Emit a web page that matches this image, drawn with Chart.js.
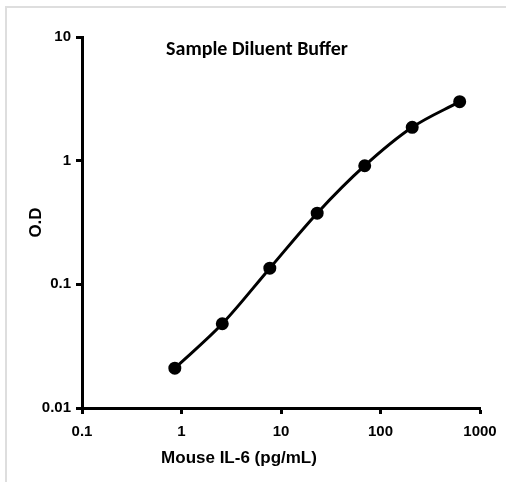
<!DOCTYPE html>
<html>
<head>
<meta charset="utf-8">
<script src="https://cdn.jsdelivr.net/npm/chart.js@4.4.1/dist/chart.umd.min.js"></script>
<style>
    body { margin: 0; background: #fff; }
    #wrap { position: relative; width: 506px; height: 482px; }
    #frame { position: absolute; left: 5px; top: 6px; right: 0; bottom: 0; border-left: 2px solid #dedede; border-top: 2px solid #dedede; }
    #grafik { position: absolute; left: 0; top: 0; }
</style>
</head>
<body>
<div id="wrap">
    <div id="frame"></div>
    <canvas id="grafik" width="506" height="482"></canvas>
</div>
<script>
const judul = "Sample Diluent Buffer";
const labelX = "Mouse IL-6 (pg/mL)";
const labelY = "O.D";

// konsentrasi (pengenceran 3x) dan nilai OD
const konsentrasi = [0.857, 2.57, 7.72, 23.1, 69.4, 208.3, 625];
const nilaiOD = [0.021, 0.048, 0.135, 0.376, 0.91, 1.86, 3.0];

const tickX = [0.1, 1, 10, 100, 1000];
const tickY = [0.01, 0.1, 1, 10];

const fontAngka = { family: "'Liberation Sans', Arial, sans-serif", size: 15, weight: 'bold' };

// teks judul dan label x digambar manual supaya posisinya pas
const teksTambahan = {
    id: 'teksTambahan',
    afterDraw(chart) {
        const ctx = chart.ctx;
        ctx.save();
        ctx.fillStyle = '#000';
        ctx.textAlign = 'center';
        ctx.textBaseline = 'middle';
        ctx.font = "bold 20px Carlito, 'Open Sans', sans-serif";
        ctx.fillText(judul, 257, 50);
        ctx.font = "bold 17px 'Liberation Sans', Arial, sans-serif";
        ctx.fillText(labelX, 239, 458);
        ctx.restore();
    }
};

const data = konsentrasi.map((x, i) => ({ x: x, y: nilaiOD[i] }));

new Chart(document.getElementById('grafik'), {
    type: 'line',
    data: {
        datasets: [{
            data: data,
            borderColor: '#000',
            backgroundColor: '#000',
            borderWidth: 3,
            pointRadius: 5,
            pointHoverRadius: 5,
            cubicInterpolationMode: 'monotone'
        }]
    },
    options: {
        responsive: false,
        animation: false,
        layout: { padding: { left: 0, right: 26, top: 37, bottom: 0 } },
        plugins: { legend: { display: false }, tooltip: { enabled: false } },
        scales: {
            x: {
                type: 'logarithmic',
                min: 0.1, max: 1000,
                afterBuildTicks: (s) => { s.ticks = tickX.map(v => ({ value: v })); },
                afterFit: (s) => { s.height = 74; },
                border: { color: '#000', width: 3 },
                grid: { drawOnChartArea: false, drawTicks: true, tickLength: 6, tickColor: '#000', tickWidth: 3 },
                ticks: { color: '#000', font: fontAngka, padding: 9, maxRotation: 0, autoSkip: false, callback: (v) => String(v) },
                title: { display: false }
            },
            y: {
                type: 'logarithmic',
                min: 0.01, max: 10,
                afterBuildTicks: (s) => { s.ticks = tickY.map(v => ({ value: v })); },
                afterFit: (s) => { s.width = 82; },
                border: { color: '#000', width: 3 },
                grid: { drawOnChartArea: false, drawTicks: true, tickLength: 6, tickColor: '#000', tickWidth: 3 },
                ticks: { color: '#000', font: fontAngka, padding: 5, autoSkip: false, callback: (v) => String(v) },
                title: { display: true, text: labelY, color: '#000', font: { family: "'Liberation Sans', Arial, sans-serif", size: 17, weight: 'bold' }, padding: { top: 26, bottom: 0 } }
            }
        }
    },
    plugins: [teksTambahan]
});
</script>
</body>
</html>
